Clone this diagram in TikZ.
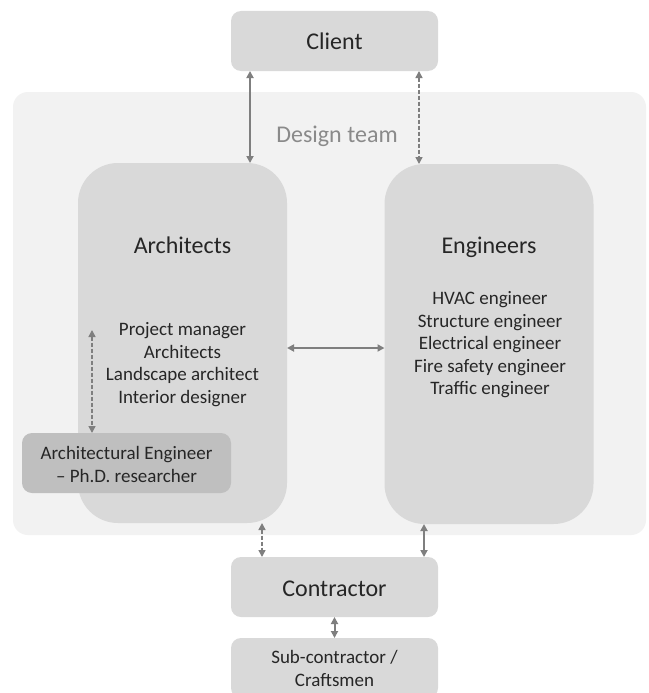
\documentclass[tikz,border=0pt]{standalone}
\usepackage{fontspec}
\setmainfont{Carlito}
\usetikzlibrary{arrows.meta,positioning}
\definecolor{teamgrey}{HTML}{F2F2F2}
\definecolor{boxgrey}{HTML}{D9D9D9}
\definecolor{phdgrey}{HTML}{BFBFBF}
\definecolor{linkgrey}{HTML}{7F7F7F}
\definecolor{labelgrey}{HTML}{8A8A8A}
\tikzset{
  box/.style = {rectangle, rounded corners=10pt, fill=boxgrey,
                minimum width=207pt, minimum height=60pt,
                inner sep=0pt, outer sep=0pt, text=black!85,
                font=\fontsize{24}{29}\selectfont},
  group/.style = {box, rounded corners=40pt,
                  minimum width=209pt, minimum height=360pt},
  item/.style = {inner sep=0pt, text=black!85, align=center,
                 text height=15pt, text depth=2pt,
                 font=\fontsize{19}{23}\selectfont},
  title/.style = {item, text height=20pt, text depth=2pt,
                  font=\fontsize{24}{29}\selectfont},
  link/.style = {color=linkgrey, line width=2pt,
                 {Triangle[length=7pt,width=7pt]}-{Triangle[length=7pt,width=7pt]}},
  dlink/.style = {link, line width=1.5pt, dash pattern=on 4pt off 2pt}
}
\begin{document}
\begin{tikzpicture}[x=1pt,y=-1pt]
  \clip (0,0) rectangle (648,693);
  \fill[white] (0,0) rectangle (648,693);

  % design team background
  \node[box, fill=teamgrey, rounded corners=15pt,
        minimum width=633pt, minimum height=443pt] (team) at (329.5,313.5) {};
  \node[title, text=labelgrey] (teamlbl) at (337,133) {Design team};

  % boxes
  \node[box] (client) at (334.5,41) {};
  \node[group] (arch) at (182.5,343) {};
  \node[group] (eng) at (489,344) {};
  \node[box, minimum width=209pt, fill=phdgrey] (phd) at (126.5,463) {};
  \node[box] (contr) at (334.5,587) {};
  \node[box] (sub) at (334.5,668) {};

  \node[title] (clientttl) at (client) {Client};
  \node[title] (contrttl) at (contr) {Contractor};
  \node[title] (archttl) at (182.5,244) {Architects};
  \node[title] (engttl) at (489,244) {Engineers};

  \foreach \t [count=\i] in {Project manager, Architects,
      Landscape architect, Interior designer}{
    \node[item] (a\i) at (182.5,{329+22.6*(\i-1)}) {\t};
  }
  \foreach \t [count=\i] in {HVAC engineer, Structure engineer,
      Electrical engineer, Fire safety engineer, Traffic engineer}{
    \node[item] (e\i) at (490,{298+22.6*(\i-1)}) {\t};
  }
  \foreach \t [count=\i] in {Architectural Engineer, -- Ph.D. researcher}{
    \node[item] (p\i) at (126.5,{453+23*(\i-1)}) {\t};
  }
  \foreach \t [count=\i] in {Sub-contractor /, Craftsmen}{
    \node[item] (s\i) at (334.5,{657+23*(\i-1)}) {\t};
  }

  % connectors
  \coordinate (c1) at (250,0);
  \coordinate (c2) at (419,0);
  \coordinate (h1) at (0,348);
  \coordinate (d1) at (92,330);
  \coordinate (b1) at (262,0);
  \coordinate (b2) at (424,0);
  \draw[link] (client.south -| c1) -- (arch.north -| c1);
  \draw[dlink] (client.south -| c2) -- (eng.north -| c2);
  \draw[link] (arch.east |- h1) -- (eng.west |- h1);
  \draw[dlink] (d1) -- (phd.north -| d1);
  \draw[dlink] (arch.south -| b1) -- (contr.north -| b1);
  \draw[link] (eng.south -| b2) -- (contr.north -| b2);
  \draw[link] (contr.south) -- (sub.north);
\end{tikzpicture}
\end{document}
